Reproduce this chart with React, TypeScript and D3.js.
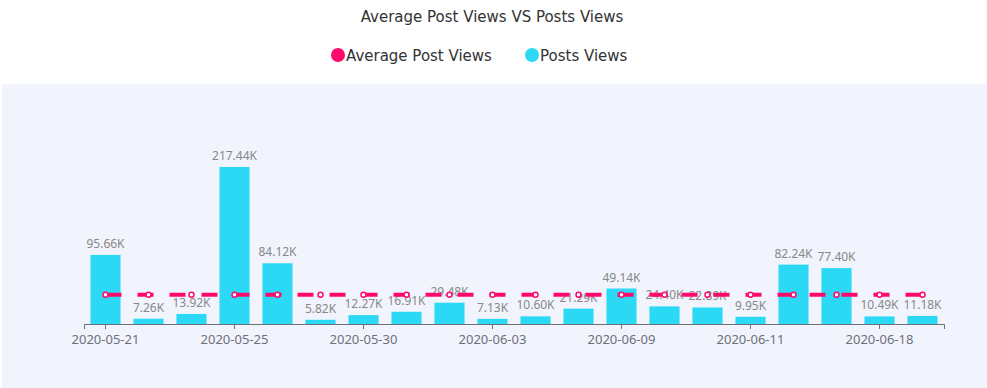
import React from "react";
import { useEffect, useRef } from "react";
import { select, scaleBand, scaleLinear, axisBottom, line } from "d3";

// categories (x axis), only every 3rd label is shown on the axis
const dates = [
  "2020-05-21", "2020-05-22", "2020-05-24", "2020-05-25", "2020-05-26",
  "2020-05-28", "2020-05-30", "2020-05-31", "2020-06-02", "2020-06-03",
  "2020-06-05", "2020-06-07", "2020-06-09", "2020-06-10", "2020-06-10b",
  "2020-06-11", "2020-06-13", "2020-06-15", "2020-06-18", "2020-06-20",
];

// Posts Views
const postViews = [
  95660, 7260, 13920, 217440, 84120, 5820, 12270, 16910, 29480, 7130,
  10600, 21290, 49140, 24400, 22890, 9950, 82240, 77400, 10490, 11180,
];

// Average Post Views
const avgViews = [
  40480, 40480, 40480, 40480, 40480, 40480, 40480, 40480, 40480, 40480,
  40480, 40480, 40480, 40480, 40480, 40480, 40480, 40480, 40480, 40480,
];

const yMax = 250000;

const W = 987;
const H = 388;
const pink = "#ff0a6c";
const cyan = "#2bd9f5";
const font = "'Noto Sans', sans-serif";
const headFont = "'DejaVu Sans', sans-serif";

const fmtK = (v: number) => (v / 1000).toFixed(2) + "K";

const App = () => {
  const svgRef = useRef<SVGSVGElement>(null);

  useEffect(() => {
    const svg = select(svgRef.current);
    svg.selectAll("*").remove();

    const x = scaleBand<string>()
      .domain(dates)
      .range([84, 944])
      .paddingInner(0.3)
      .paddingOuter(0.15);
    const y = scaleLinear().domain([0, yMax]).range([324, 143.5]);

    // plot area background
    svg.append("rect")
      .attr("x", 2).attr("y", 84)
      .attr("width", W - 2).attr("height", H - 84)
      .attr("fill", "#f1f4fd");

    // title
    svg.append("text")
      .attr("x", 492).attr("y", 22)
      .attr("text-anchor", "middle")
      .style("font", `15px ${headFont}`)
      .attr("fill", "#333")
      .text("Average Post Views VS Posts Views");

    // legend
    const legend = [
      { name: "Average Post Views", color: pink, x: 338 },
      { name: "Posts Views", color: cyan, x: 532 },
    ];
    const lg = svg.selectAll(".legend").data(legend).join("g").attr("class", "legend");
    lg.append("circle")
      .attr("cx", (d) => d.x).attr("cy", 55).attr("r", 7)
      .attr("fill", (d) => d.color);
    lg.append("text")
      .attr("x", (d) => d.x + 8).attr("y", 61)
      .style("font", `15px ${headFont}`)
      .attr("fill", "#333")
      .text((d) => d.name);

    // bars
    svg.selectAll(".bar")
      .data(postViews)
      .join("rect")
      .attr("class", "bar")
      .attr("x", (d, i) => x(dates[i]) as number)
      .attr("width", x.bandwidth())
      .attr("y", (d) => y(d))
      .attr("height", (d) => y(0) - y(d))
      .attr("fill", cyan);

    // bar labels
    svg.selectAll(".label")
      .data(postViews)
      .join("text")
      .attr("class", "label")
      .attr("x", (d, i) => (x(dates[i]) as number) + x.bandwidth() / 2)
      .attr("y", (d) => y(d) - 7)
      .attr("text-anchor", "middle")
      .style("font", `12px ${font}`)
      .attr("fill", "#888")
      .text((d) => fmtK(d));

    // x axis
    const xAxis = axisBottom(x)
      .tickSizeOuter(0)
      .tickSize(5)
      .tickValues(dates.filter((d, i) => i % 3 === 0));
    const ax = svg.append("g").attr("transform", "translate(0,324)").call(xAxis);
    ax.select(".domain").attr("stroke", "#6e7079");
    ax.selectAll(".tick line").attr("stroke", "#6e7079");
    ax.selectAll(".tick text")
      .attr("dy", "0.9em")
      .attr("fill", "#6e7079")
      .style("font", `13px ${font}`);

    // average line
    const cx = (i: number) => (x(dates[i]) as number) + x.bandwidth() / 2;
    const avgLine = line<number>().x((d, i) => cx(i)).y((d) => y(d));
    svg.append("path")
      .datum(avgViews)
      .attr("d", avgLine)
      .attr("fill", "none")
      .attr("stroke", pink)
      .attr("stroke-width", 4)
      .attr("stroke-dasharray", "16 16");
    svg.selectAll(".pt")
      .data(avgViews)
      .join("circle")
      .attr("class", "pt")
      .attr("cx", (d, i) => cx(i))
      .attr("cy", (d) => y(d))
      .attr("r", 2.5)
      .attr("fill", "#fff")
      .attr("stroke", pink)
      .attr("stroke-width", 1.5);
  }, []);

  return (
    <div style={{ position: "absolute", left: 0, top: 0 }}>
      <svg ref={svgRef} width={W} height={H} style={{ display: "block", background: "#fff" }} />
    </div>
  );
};

export default App;
